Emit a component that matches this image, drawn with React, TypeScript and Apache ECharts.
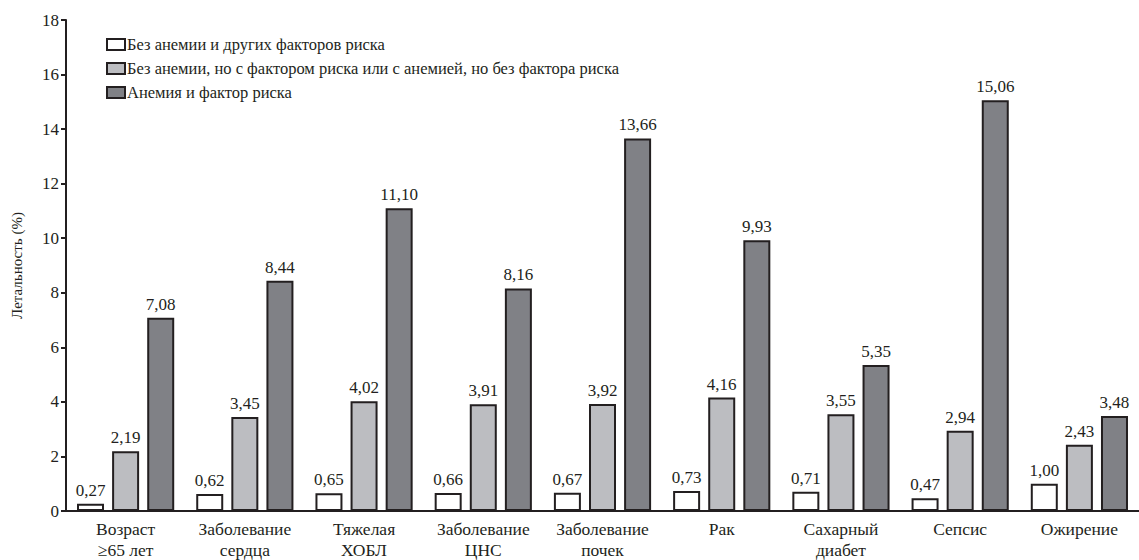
import React, { useEffect, useRef } from "react";
import * as echarts from "echarts";

const categories = [
  "Возраст\n≥65 лет",
  "Заболевание\nсердца",
  "Тяжелая\nХОБЛ",
  "Заболевание\nЦНС",
  "Заболевание\nпочек",
  "Рак",
  "Сахарный\nдиабет",
  "Сепсис",
  "Ожирение",
];

const seriesNames = [
  "Без анемии и других факторов риска",
  "Без анемии, но с фактором риска или с анемией, но без фактора риска",
  "Анемия и фактор риска",
];

const yTitle = "Летальность (%)";

const noAnemia = [0.27, 0.62, 0.65, 0.66, 0.67, 0.73, 0.71, 0.47, 1.0];
const oneFactor = [2.19, 3.45, 4.02, 3.91, 3.92, 4.16, 3.55, 2.94, 2.43];
const both = [7.08, 8.44, 11.1, 8.16, 13.66, 9.93, 5.35, 15.06, 3.48];

const colors = ["#ffffff", "#bcbdc1", "#808186"];

const FONT = "Liberation Serif";
const INK = "#231f20";

export default function App() {
  const ref = useRef<HTMLDivElement>(null);

  useEffect(() => {
    if (!ref.current) return;
    const chart = echarts.init(ref.current, undefined, { renderer: "svg" });
    const datasets = [noAnemia, oneFactor, both];
    chart.setOption({
      animation: false,
      textStyle: { fontFamily: FONT },
      grid: { left: 66, top: 20, bottom: 45, right: -7, containLabel: false },
      legend: {
        orient: "vertical",
        left: 101,
        top: 31,
        itemWidth: 18,
        itemHeight: 11,
        itemGap: 7,
        icon: "rect",
        textStyle: {
          fontFamily: FONT,
          fontSize: 16.5,
          color: INK,
          lineHeight: 17,
          padding: [0, 0, 0, -3],
        },
        data: seriesNames,
      },
      xAxis: {
        type: "category",
        data: categories,
        axisLine: { lineStyle: { color: INK, width: 2 } },
        axisTick: { show: false },
        axisLabel: {
          fontFamily: FONT,
          fontSize: 17.5,
          color: INK,
          lineHeight: 21,
          margin: 7,
          interval: 0,
        },
      },
      yAxis: {
        type: "value",
        min: 0,
        max: 18,
        interval: 2,
        name: yTitle,
        nameLocation: "middle",
        nameGap: 42,
        nameTextStyle: { fontFamily: FONT, fontSize: 15, color: INK },
        axisLine: { show: true, lineStyle: { color: INK, width: 2 } },
        axisTick: { show: true, length: 5, lineStyle: { color: INK, width: 2 } },
        splitLine: { show: false },
        axisLabel: { fontFamily: FONT, fontSize: 17, color: INK, margin: 7 },
      },
      series: datasets.map((d, i) => ({
        type: "bar",
        name: seriesNames[i],
        data: d,
        barWidth: 27,
        barGap: "30%",
        itemStyle: { color: colors[i], borderColor: INK, borderWidth: 2 },
        label: {
          show: true,
          position: "top",
          distance: 5,
          fontFamily: FONT,
          fontSize: 17,
          color: INK,
          formatter: (p: any) => Number(p.value).toFixed(2).replace(".", ","),
        },
      })),
    });
    return () => chart.dispose();
  }, []);

  return (
    <div
      ref={ref}
      style={{ position: "fixed", left: 0, top: 0, width: 1139, height: 560, background: "#fff" }}
    />
  );
}
